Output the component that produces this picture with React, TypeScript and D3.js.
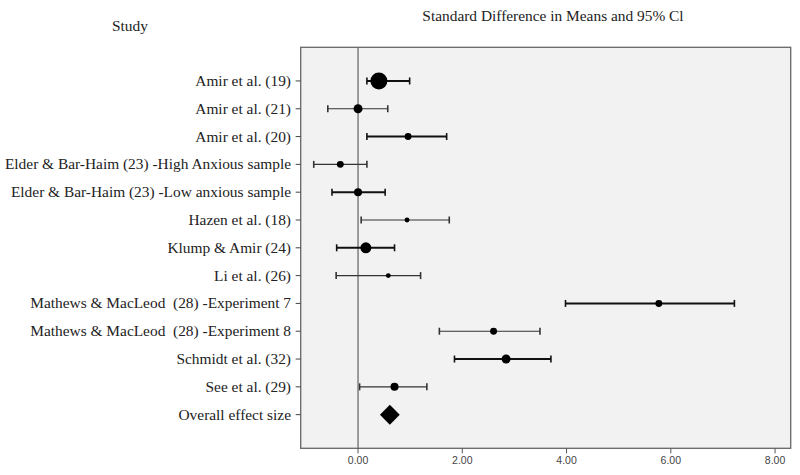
import React from "react";
import * as d3 from "d3";

const studies = [
  "Amir et al. (19)",
  "Amir et al. (21)",
  "Amir et al. (20)",
  "Elder & Bar-Haim (23) -High Anxious sample",
  "Elder & Bar-Haim (23) -Low anxious sample",
  "Hazen et al. (18)",
  "Klump & Amir (24)",
  "Li et al. (26)",
  "Mathews & MacLeod  (28) -Experiment 7",
  "Mathews & MacLeod  (28) -Experiment 8",
  "Schmidt et al. (32)",
  "See et al. (29)",
];
const effects = [0.4, 0.0, 0.96, -0.34, 0.0, 0.94, 0.15, 0.58, 5.77, 2.6, 2.84, 0.7];
const lowers = [0.17, -0.58, 0.17, -0.85, -0.5, 0.06, -0.41, -0.42, 3.98, 1.56, 1.85, 0.03];
const uppers = [0.99, 0.57, 1.7, 0.17, 0.52, 1.75, 0.7, 1.2, 7.22, 3.49, 3.7, 1.32];
const weights = [72, 20, 12, 12, 16, 6, 30, 6, 12, 12, 20, 16];

const overallLabel = "Overall effect size";
const overallEffect = 0.61;
const overallLower = 0.42;
const overallUpper = 0.8;

const xTicks = [0, 2, 4, 6, 8];
const title = "Standard Difference in Means and 95% Cl";
const studyHeader = "Study";

export default function App() {
  const W = 800;
  const H = 475;
  const left = 300.7;
  const right = 790.7;
  const top = 47.3;
  const bottom = 448.3;

  const rows = [...studies, overallLabel];
  const x = d3.scaleLinear().domain([-1.1, 8.3]).range([left, right]);
  const y = d3.scalePoint<string>().domain(rows).range([top, bottom]).padding(1.21);
  const r = d3.scaleSqrt().domain([0, 72]).range([0, 8.5]);

  const serif = "'Liberation Serif', 'Times New Roman', serif";
  const sans = "'Liberation Sans', Arial, sans-serif";
  const capH = 3.5;
  const fs = 15.4;

  const dy = y(overallLabel)!;
  const diamond = d3.line()([
    [x(overallLower), dy],
    [x(overallEffect), dy - 10],
    [x(overallUpper), dy],
    [x(overallEffect), dy + 10],
  ]) + "Z";

  return (
    <svg width={W} height={H} style={{ position: "absolute", left: 0, top: 0, background: "#fff" }}>
      <text x={130} y={31} fontFamily={serif} fontSize={fs} textAnchor="middle" fill="#222">
        {studyHeader}
      </text>
      <text x={553} y={21} fontFamily={serif} fontSize={fs} textAnchor="middle" fill="#222">
        {title}
      </text>
      <rect x={left} y={top} width={right - left} height={bottom - top} fill="#f2f2f2" stroke="#666" strokeWidth={1.3} />
      <line x1={x(0)} x2={x(0)} y1={top} y2={bottom} stroke="#6e6e6e" strokeWidth={1.3} />
      {xTicks.map((t) => (
        <g key={t}>
          <line x1={x(t)} x2={x(t)} y1={bottom} y2={bottom + 5} stroke="#555" />
          <text x={x(t)} y={bottom + 16} fontFamily={sans} fontSize={10.5} textAnchor="middle" fill="#444">
            {t.toFixed(2)}
          </text>
        </g>
      ))}
      {rows.map((s) => (
        <g key={s}>
          <line x1={left - 5} x2={left} y1={y(s)!} y2={y(s)!} stroke="#444" />
          <text
            x={291}
            y={y(s)! + 5}
            fontFamily={serif}
            fontSize={fs}
            textAnchor="end"
            fill="#222"
            style={{ whiteSpace: "pre" }}
          >
            {s}
          </text>
        </g>
      ))}
      {studies.map((s, i) => {
        const yy = y(s)!;
        const thick = i % 2 === 0;
        const sw = thick ? 2 : 1.1;
        const col = thick ? "#111" : "#333";
        return (
          <g key={s}>
            <line x1={x(lowers[i])} x2={x(uppers[i])} y1={yy} y2={yy} stroke={col} strokeWidth={sw} />
            <line x1={x(lowers[i])} x2={x(lowers[i])} y1={yy - capH} y2={yy + capH} stroke={col} strokeWidth={1.6} />
            <line x1={x(uppers[i])} x2={x(uppers[i])} y1={yy - capH} y2={yy + capH} stroke={col} strokeWidth={1.6} />
            <circle cx={x(effects[i])} cy={yy} r={r(weights[i])} fill="#000" />
          </g>
        );
      })}
      <path d={diamond} fill="#000" />
    </svg>
  );
}
